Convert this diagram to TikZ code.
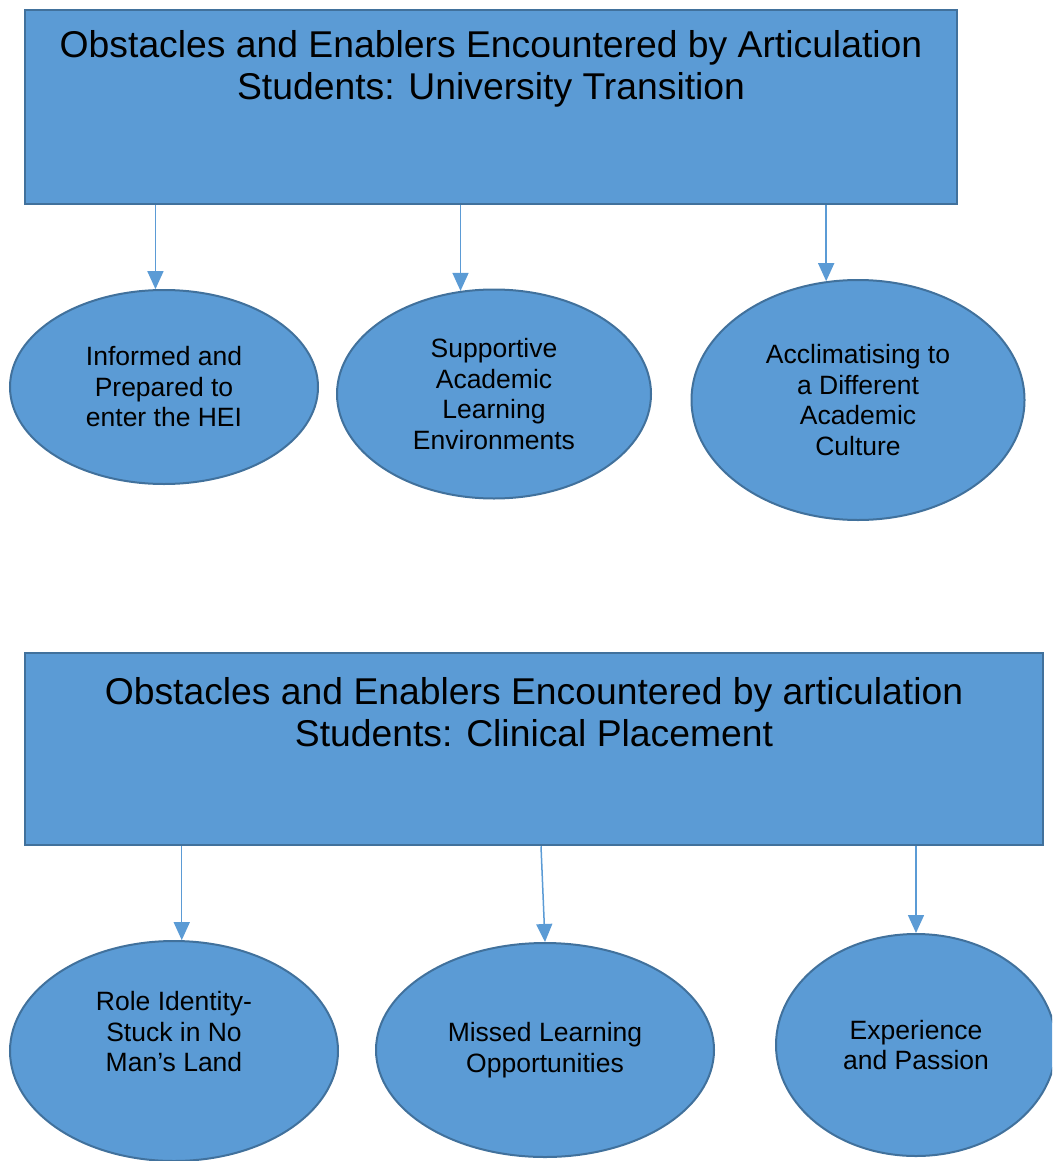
\documentclass[tikz,border=0pt]{standalone}
\usepackage{fontspec}
\setmainfont{Liberation Sans}
\usepackage{tikz}
\usetikzlibrary{shapes.geometric,arrows.meta}
\definecolor{themeblue}{HTML}{5B9BD5}
\definecolor{themeedge}{HTML}{41719C}

\begin{document}
\begin{tikzpicture}[x=1pt, y=-1pt,
    panel/.style={rectangle, draw=themeedge, fill=themeblue, line width=2.5pt, inner sep=0pt},
    heading/.style={align=center, font=\fontsize{37.3}{42}\selectfont},
    theme/.style={ellipse, draw=themeedge, fill=themeblue, line width=2pt, inner sep=0pt, align=center, font=\fontsize{26.5}{30.5}\selectfont},
    themetext/.style={align=center, font=\fontsize{26.5}{30.5}\selectfont},
    arrow/.style={-{Triangle[length=18pt, width=16pt]}, line width=1.5pt, color=themeblue},
]
    \useasboundingbox (0,0) rectangle (1052,1161);
    \clip (0,0) rectangle (1052,1161);

    % university transition
    \node[panel, minimum width=932pt, minimum height=194pt] (uni) at (491,107) {};
    \node[heading] (unititle) at (491,69) {Obstacles and Enablers Encountered by Articulation\\Students: University Transition};

    \node[theme, minimum width=308pt, minimum height=194pt] (informed) at (164,387) {Informed and\\Prepared to\\enter the HEI};
    \node[theme, minimum width=314pt, minimum height=209pt] (supportive) at (494,394) {Supportive\\Academic\\Learning\\Environments};
    \node[theme, minimum width=333pt, minimum height=240pt] (acclim) at (858,400) {Acclimatising to\\a Different\\Academic\\Culture};

    \draw[arrow] (uni.south -| informed.95) -- (informed.95);
    \draw[arrow] (uni.south -| supportive.108) -- (supportive.108);
    \draw[arrow] (uni.south -| acclim.105) -- (acclim.105);

    % clinical placement
    \node[panel, minimum width=1018pt, minimum height=192pt] (clin) at (534,749) {};
    \node[heading] (clintitle) at (534,712) {Obstacles and Enablers Encountered by articulation\\Students: Clinical Placement};

    \node[theme, minimum width=328pt, minimum height=220pt] (role) at (174,1051) {};
    \node[themetext] (roletext) at (174,1032) {Role Identity-\\Stuck in No\\Man’s Land};
    \node[theme, minimum width=338pt, minimum height=214pt] (missed) at (545,1050) {Missed Learning\\Opportunities};
    \node[theme, minimum width=280pt, minimum height=222pt] (passion) at (916,1045) {Experience\\and Passion};

    \draw[arrow] (clin.south -| role.86) -- (role.86);
    \draw[arrow] ([xshift=-4pt]clin.south -| missed.north) -- (missed.north);
    \draw[arrow] (clin.south -| passion.north) -- (passion.north);
\end{tikzpicture}
\end{document}
